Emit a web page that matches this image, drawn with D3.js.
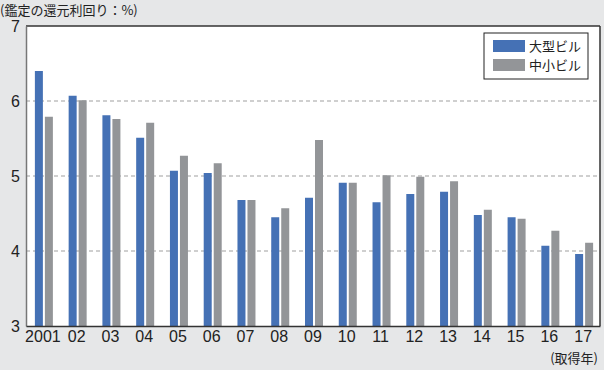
<!DOCTYPE html>
<html>
<head>
<meta charset="utf-8">
<script src="https://cdn.jsdelivr.net/npm/d3@7"></script>
<style>
  body { margin: 0; background: #e6e7e8; }
  svg { display: block; font-family: "Noto Sans CJK JP", "Noto Sans", sans-serif; }
</style>
</head>
<body>
<div id="chart"></div>
<script>
var years = ["2001","02","03","04","05","06","07","08","09","10","11","12","13","14","15","16","17"];
var large = [6.40,6.07,5.81,5.51,5.07,5.04,4.68,4.45,4.71,4.91,4.65,4.76,4.79,4.48,4.45,4.07,3.96];
var small = [5.79,6.01,5.76,5.71,5.27,5.17,4.68,4.57,5.48,4.91,5.01,4.99,4.93,4.55,4.43,4.27,4.11];
var seriesNames = ["大型ビル","中小ビル"];
var yTicks = [3,4,5,6,7];

var colors = ["#4571b5", "#939598"];

var width = 604, height = 370;
var margin = {top: 26, right: 4, bottom: 44, left: 26};
var cw = width - margin.left - margin.right,
    ch = height - margin.top - margin.bottom;

var svg = d3.select("#chart").append("svg")
    .attr("width", width)
    .attr("height", height);

svg.append("rect").attr("width", width).attr("height", height).attr("fill", "#e6e7e8");

var x = d3.scaleBand().domain(years).range([0, cw]).paddingInner(0).paddingOuter(0);
var y = d3.scaleLinear().domain([3, 7]).range([ch, 0]);

var g = svg.append("g")
    .attr("transform", "translate(" + margin.left + "," + margin.top + ")");

g.append("rect").attr("width", cw).attr("height", ch).attr("fill", "#fff");

// gridlines
g.selectAll(".grid")
    .data(yTicks.filter(function(d){ return d > 3 && d < 7; }))
  .enter().append("line")
    .attr("x1", 0).attr("x2", cw)
    .attr("y1", function(d){ return y(d); })
    .attr("y2", function(d){ return y(d); })
    .attr("stroke", "#a0a0a0")
    .attr("stroke-width", 1.2)
    .attr("stroke-dasharray", "4,3");

var data = years.map(function(yr, i){ return {year: yr, vals: [large[i], small[i]]}; });

var barW = 8, gap = 2;
var groups = g.selectAll(".grp").data(data).enter().append("g")
    .attr("transform", function(d){ return "translate(" + (x(d.year) + x.bandwidth()/2) + ",0)"; });

groups.selectAll("rect")
    .data(function(d){ return d.vals; })
  .enter().append("rect")
    .attr("x", function(d, i){ return i === 0 ? -barW - gap/2 + 1 : gap/2 + 1; })
    .attr("width", barW)
    .attr("y", function(d){ return y(d); })
    .attr("height", function(d){ return ch - y(d); })
    .attr("fill", function(d, i){ return colors[i]; });

// frame
g.append("line").attr("x1", 0).attr("x2", cw).attr("y1", 0).attr("y2", 0).attr("stroke", "#333").attr("stroke-width", 1.5);
g.append("line").attr("x1", cw).attr("x2", cw).attr("y1", 0).attr("y2", ch).attr("stroke", "#333").attr("stroke-width", 1.5);

// axes
var yAxis = g.append("g")
    .call(d3.axisLeft(y).tickValues(yTicks).tickSize(0).tickPadding(6).tickFormat(d3.format("d")));
yAxis.select(".domain").attr("stroke", "#777").attr("stroke-width", 1.5);
yAxis.selectAll("text").attr("font-size", 16).attr("fill", "#222").attr("font-family", "Liberation Sans, Arial, sans-serif");

var xAxis = g.append("g")
    .attr("transform", "translate(0," + ch + ")")
    .call(d3.axisBottom(x).tickSize(0).tickPadding(5));
xAxis.select(".domain").attr("stroke", "#333").attr("stroke-width", 1.5);
xAxis.selectAll("text").attr("font-size", 16).attr("fill", "#222").attr("font-family", "Liberation Sans, Arial, sans-serif");

// titles
svg.append("text").attr("x", 0).attr("y", 15)
    .attr("font-size", 13).attr("fill", "#222")
    .text("(鑑定の還元利回り：%)");
svg.append("text").attr("x", 598).attr("y", 363)
    .attr("text-anchor", "end")
    .attr("font-size", 13).attr("fill", "#222")
    .text("(取得年)");

// legend
var lg = svg.append("g").attr("transform", "translate(484,33)");
lg.append("rect").attr("width", 104).attr("height", 46)
    .attr("fill", "#fff").attr("stroke", "#222").attr("stroke-width", 1);
seriesNames.forEach(function(n, i){
    lg.append("rect").attr("x", 9).attr("y", 7 + i*19).attr("width", 32).attr("height", 12).attr("fill", colors[i]);
    lg.append("text").attr("x", 45).attr("y", 18 + i*19).attr("font-size", 13).attr("fill", "#222").text(n);
});
</script>
</body>
</html>
